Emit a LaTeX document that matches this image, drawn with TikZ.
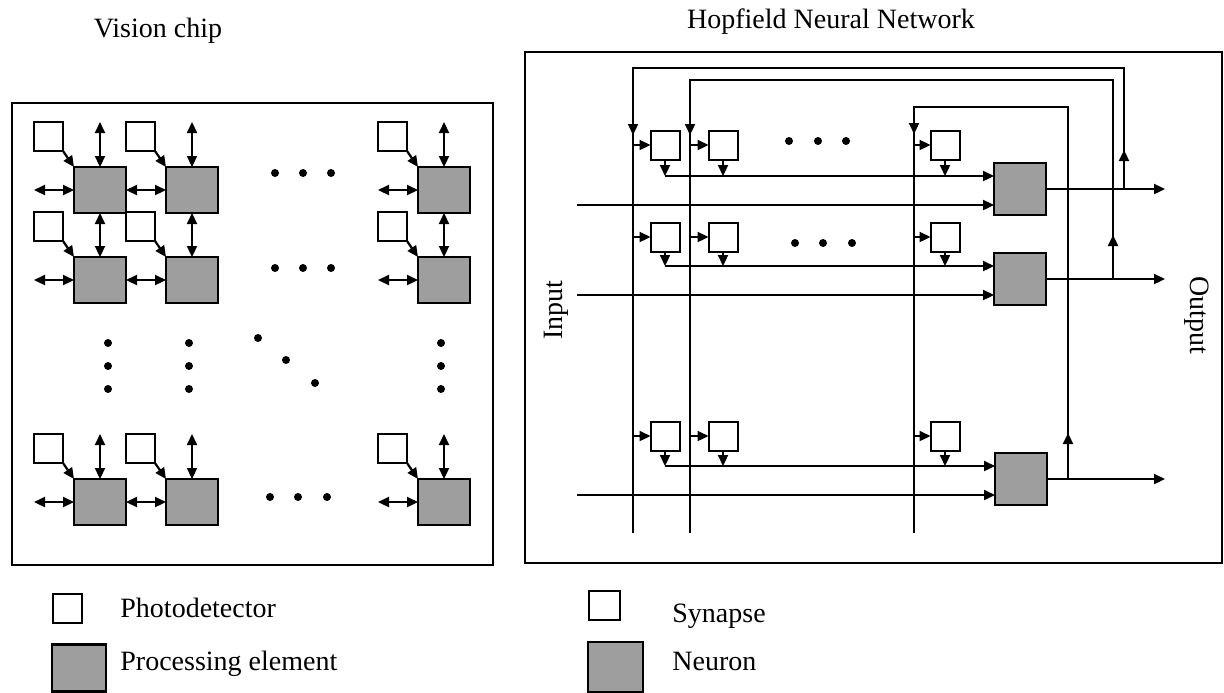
\documentclass[tikz,border=0pt]{standalone}
\usepackage{fontspec}
\setmainfont{Liberation Serif}
\usetikzlibrary{arrows.meta}
\begin{document}
\begin{tikzpicture}[x=0.5pt,y=-0.5pt,
  >={Triangle[length=5.5pt,width=5pt]},
  wire/.style={line width=1.1pt},
  arr/.style={wire,->},
  dbl/.style={wire,<->},
  pd/.style={draw,line width=1pt,fill=white,minimum width=14.5pt,minimum height=14.5pt,inner sep=0pt,outer sep=0pt},
  pe/.style={draw,line width=1.1pt,fill=black!38,minimum width=26pt,minimum height=23pt,inner sep=0pt,outer sep=0pt},
  neuron/.style={pe,minimum height=26pt},
  frame/.style={draw,line width=1.2pt},
  lbl/.style={font=\fontsize{14}{16}\selectfont,inner sep=0pt},
  dot/.style={fill=black}
]
\useasboundingbox (0,0) rectangle (1224,692);

% ---------- titles ----------
\node[lbl] (t1) at (158,31) {Vision chip};
\node[lbl] (t2) at (831,22) {Hopfield Neural Network};

% ---------- left panel ----------
\draw[frame] (12,103) rectangle (493,565);
\foreach \r/\y in {1/190,2/280,3/502} {
  \foreach \c/\x in {1/100,2/192,3/444} {
    \node[pe] (pe\r\c) at (\x,\y) {};
    \node[pd] (pd\r\c) at (\x-51.5,\y-53.5) {};
    \draw[arr] (pd\r\c.south east) -- (pe\r\c.north west);
  }
  \draw[dbl] (pd\r1.west |- pe\r1.west) -- (pe\r1.west);
  \draw[dbl] (pe\r1.east) -- (pe\r2.west);
  \draw[dbl] (pd\r3.west |- pe\r3.west) -- (pe\r3.west);
}
\foreach \c in {1,2,3} {
  \draw[dbl] (pe1\c.north |- pd1\c.north) -- (pe1\c.north);
  \draw[dbl] (pe1\c.south) -- (pe2\c.north);
  \draw[dbl] (pe3\c.north |- pd3\c.north) -- (pe3\c.north);
}
% dots
\foreach \x in {275,303,331} {
  \fill[dot] (\x,173) circle (2pt);
  \fill[dot] (\x,268) circle (2pt);
}
\foreach \x in {270,298,327} \fill[dot] (\x,497) circle (2pt);
\foreach \x in {108,189,441} {
  \fill[dot] (\x,343) circle (2pt);
  \fill[dot] (\x,366) circle (2pt);
  \fill[dot] (\x,389) circle (2pt);
}
\fill[dot] (258,338) circle (2pt);
\fill[dot] (286,360) circle (2pt);
\fill[dot] (315,383) circle (2pt);

% ---------- right panel ----------
\draw[frame] (525,52) rectangle (1222,563);

\node[neuron] (n1) at (1020,189) {};
\node[neuron] (n2) at (1020,279) {};
\node[neuron] (n3) at (1021,479) {};
\foreach \r/\y in {1/145,2/237,3/436} {
  \foreach \c/\x in {1/665,2/723,3/945} {
    \node[pd] (s\r\c) at (\x,\y) {};
  }
}

% feedback lines
\coordinate (vt1) at (633,68);  \coordinate (vb1) at (633,533);
\coordinate (vt2) at (690,80);  \coordinate (vb2) at (690,533);
\coordinate (vt3) at (914,107); \coordinate (vb3) at (914,533);
\coordinate (ft1) at (1124,68);
\coordinate (ft2) at (1113,80);
\coordinate (ft3) at (1068,107);
\coordinate (j1) at (1124,189);
\coordinate (j2) at (1113,279);
\coordinate (j3) at (1068,479);
\coordinate (u1) at (1124,150);
\coordinate (u2) at (1113,235);
\coordinate (u3) at (1068,433);
\coordinate (d1) at (633,135);
\coordinate (d2) at (690,135);
\coordinate (d3) at (914,134);
\foreach \k in {1,2,3} {
  \draw[wire] (j\k) -- (ft\k) -- (vt\k) -- (vb\k);
  \draw[arr] (j\k) -- (u\k);
  \draw[arr] (vt\k) -- (d\k);
}

% rows
\foreach \r/\ny in {1/189,2/279,3/479} {
  \coordinate (sum\r) at (665,\ny-13);
  \coordinate (in\r) at (577,\ny+16);
  \coordinate (out\r) at (1165,\ny);
  \foreach \c in {1,2,3} {
    \draw[arr] (s\r\c.west -| vb\c) -- (s\r\c.west);
    \draw[arr] (s\r\c.south) -- (s\r\c.south |- sum\r);
  }
  \draw[arr] (sum\r) -- (sum\r -| n\r.west);
  \draw[arr] (in\r) -- (in\r -| n\r.west);
  \draw[arr] (n\r.east) -- (out\r);
}
% dots
\foreach \x in {789,818,846} \fill[dot] (\x,141) circle (2pt);
\foreach \x in {795,823,852} \fill[dot] (\x,243) circle (2pt);

\node[lbl,rotate=90] (inl) at (556,310) {Input};
\node[lbl,rotate=-90] (outl) at (1197,315) {Output};

% ---------- legend ----------
\node[pd] (lpd) at (67,608) {};
\node[pe,minimum width=27pt,minimum height=23.5pt] (lpe) at (79,668) {};
\node[lbl,anchor=base west] (lt1) at (120,617) {Photodetector};
\node[lbl,anchor=base west] (lt2) at (120,670) {Processing element};
\node[pd,minimum width=15.5pt] (lsy) at (604.5,605.5) {};
\node[pe,minimum width=27.5pt,minimum height=25pt] (lne) at (615.5,667) {};
\node[lbl,anchor=base west] (lt3) at (672,622) {Synapse};
\node[lbl,anchor=base west] (lt4) at (672,670) {Neuron};
\end{tikzpicture}
\end{document}
